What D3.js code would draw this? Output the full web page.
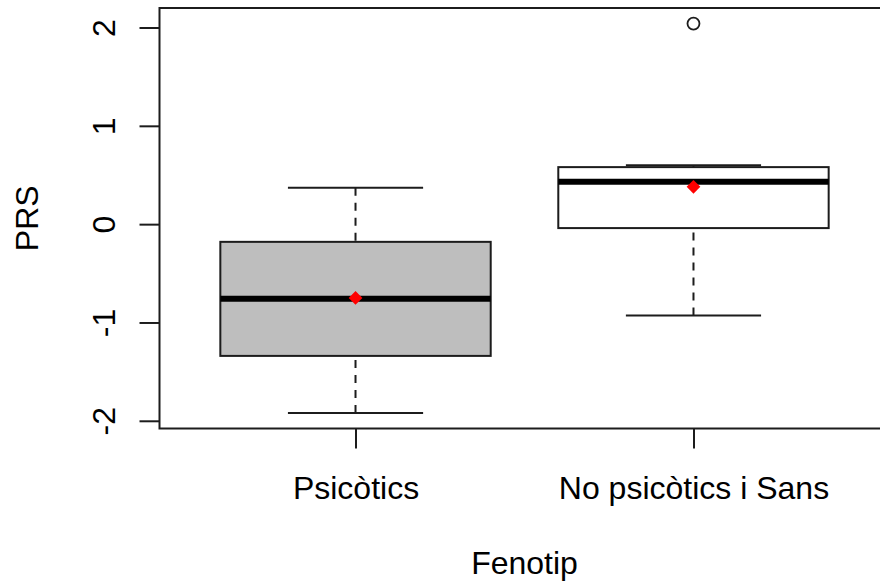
<!DOCTYPE html>
<html>
<head>
<meta charset="utf-8">
<script src="https://cdn.jsdelivr.net/npm/d3@7"></script>
<style>
  html, body { margin: 0; padding: 0; background: #ffffff; }
  svg { display: block; }
  text { font-family: "Liberation Sans", Arial, sans-serif; fill: #000; }
</style>
</head>
<body>
<svg id="chart" width="880" height="581"></svg>
<script>
// Boxplot summaries of PRS per phenotype group
const categories    = ["Psicòtics", "No psicòtics i Sans"];
const lowerWhisker  = [-1.92, -0.93];
const q1            = [-1.34, -0.04];
const medians       = [-0.76, 0.43];
const q3            = [-0.18, 0.58];
const upperWhisker  = [0.37, 0.60];
const means         = [-0.75, 0.38];
const outliers      = [[], [2.04]];
const yTicks        = [-2, -1, 0, 1, 2];
const xTitle = "Fenotip";
const yTitle = "PRS";

const boxFills = ["#BEBEBE", "#FFFFFF"];
const ink = "#1c1c1c";

const svg = d3.select("#chart");

// plotting region (right edge runs past the visible canvas)
const plot = { left: 159.5, right: 889.5, top: 8, bottom: 428.5 };

// x: groups at 1..n, limits (0.5, n + 0.5) widened by 4%
const n = categories.length;
const xPad = 0.04 * n;
const x = d3.scaleLinear()
  .domain([0.5 - xPad, n + 0.5 + xPad])
  .range([plot.left, plot.right]);

// y: full data range widened by 4%
const allVals = [...lowerWhisker, ...upperWhisker, ...outliers.flat()];
const yMin = d3.min(allVals), yMax = d3.max(allVals);
const yPad = 0.04 * (yMax - yMin);
const y = d3.scaleLinear()
  .domain([yMin - yPad, yMax + yPad])
  .range([plot.bottom, plot.top]);

const boxHalf = 0.4;     // half box width in group units
const capHalf = 0.2;     // half whisker cap width

const g = svg.append("g");

categories.forEach((cat, i) => {
  const cx = x(i + 1);
  const gb = g.append("g");

  // dashed whiskers
  gb.append("line")
    .attr("x1", cx).attr("x2", cx)
    .attr("y1", y(lowerWhisker[i])).attr("y2", y(q1[i]))
    .attr("stroke", ink).attr("stroke-width", 2).attr("stroke-dasharray", "8,7");
  gb.append("line")
    .attr("x1", cx).attr("x2", cx)
    .attr("y1", y(upperWhisker[i])).attr("y2", y(q3[i]))
    .attr("stroke", ink).attr("stroke-width", 2).attr("stroke-dasharray", "8,7");

  // whisker caps
  [lowerWhisker[i], upperWhisker[i]].forEach(v => {
    gb.append("line")
      .attr("x1", x(i + 1 - capHalf)).attr("x2", x(i + 1 + capHalf))
      .attr("y1", y(v)).attr("y2", y(v))
      .attr("stroke", ink).attr("stroke-width", 2);
  });

  // box
  gb.append("rect")
    .attr("x", x(i + 1 - boxHalf))
    .attr("y", y(q3[i]))
    .attr("width", x(i + 1 + boxHalf) - x(i + 1 - boxHalf))
    .attr("height", y(q1[i]) - y(q3[i]))
    .attr("fill", boxFills[i])
    .attr("stroke", ink).attr("stroke-width", 2);

  // median
  gb.append("line")
    .attr("x1", x(i + 1 - boxHalf)).attr("x2", x(i + 1 + boxHalf))
    .attr("y1", y(medians[i])).attr("y2", y(medians[i]))
    .attr("stroke", "#000").attr("stroke-width", 6);

  // outliers
  outliers[i].forEach(v => {
    gb.append("circle")
      .attr("cx", cx).attr("cy", y(v)).attr("r", 6)
      .attr("fill", "none").attr("stroke", ink).attr("stroke-width", 1.8);
  });

  // mean marker (filled diamond)
  gb.append("path")
    .attr("d", d3.symbol(d3.symbolDiamond2, 120)())
    .attr("transform", `translate(${cx},${y(means[i])})`)
    .attr("fill", "#FF0000");
});

// frame around the plotting region
svg.append("rect")
  .attr("x", plot.left).attr("y", plot.top)
  .attr("width", plot.right - plot.left).attr("height", plot.bottom - plot.top)
  .attr("fill", "none").attr("stroke", ink).attr("stroke-width", 2);

// y axis: ticks outward, labels rotated
const yAxis = d3.axisLeft(y)
  .tickValues(yTicks)
  .tickSize(20)
  .tickPadding(0)
  .tickFormat(d => String(d));
const ya = svg.append("g")
  .attr("transform", `translate(${plot.left},0)`)
  .call(yAxis);
ya.select(".domain").remove();
ya.selectAll(".tick line").attr("stroke", ink).attr("stroke-width", 2);
ya.selectAll(".tick text")
  .attr("x", null).attr("dy", null)
  .attr("text-anchor", "middle")
  .attr("transform", "translate(-44.5,0) rotate(-90)")
  .style("font-size", "32px")
  .style("font-family", "'Liberation Sans', Arial, sans-serif")
  .attr("fill", "#000");

// x axis: group ticks and names
const xAxis = d3.axisBottom(x)
  .tickValues(d3.range(1, n + 1))
  .tickSize(20)
  .tickPadding(0)
  .tickFormat(d => categories[d - 1]);
const xa = svg.append("g")
  .attr("transform", `translate(0,${plot.bottom})`)
  .call(xAxis);
xa.select(".domain").remove();
xa.selectAll(".tick line").attr("stroke", ink).attr("stroke-width", 2);
xa.selectAll(".tick text")
  .attr("y", 70.5).attr("dy", null)
  .style("font-size", "32px")
  .style("font-family", "'Liberation Sans', Arial, sans-serif")
  .attr("fill", "#000");

// axis titles
svg.append("text")
  .attr("x", (plot.left + plot.right) / 2)
  .attr("y", 573.5)
  .attr("text-anchor", "middle")
  .style("font-size", "32px")
  .text(xTitle);

svg.append("text")
  .attr("transform", `translate(38,${(plot.top + plot.bottom) / 2}) rotate(-90)`)
  .attr("text-anchor", "middle")
  .style("font-size", "32px")
  .text(yTitle);
</script>
</body>
</html>
